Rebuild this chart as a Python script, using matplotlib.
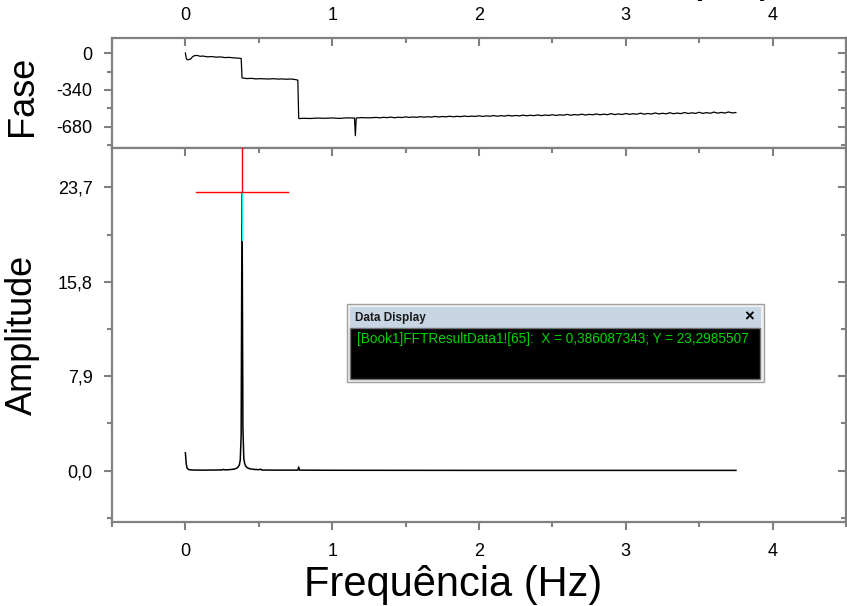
import matplotlib
matplotlib.use("Agg")
import matplotlib.pyplot as plt
from matplotlib.patches import Rectangle
from matplotlib.ticker import FixedLocator, FuncFormatter

plt.rcParams["font.family"] = ["Liberation Sans", "DejaVu Sans"]
plt.rcParams["axes.unicode_minus"] = False

# ----------------------------
# Data (FFT result)
# ----------------------------
phase_freq = [0.000, 0.006, 0.012, 0.024, 0.036, 0.048, 0.060, 0.080, 0.100, 0.120,
              0.150, 0.180, 0.210, 0.240, 0.270, 0.300, 0.330, 0.360, 0.380, 0.386,
              0.392, 0.420, 0.450, 0.480, 0.510, 0.540, 0.570, 0.600, 0.630, 0.660,
              0.690, 0.720, 0.750, 0.766, 0.772, 0.778, 0.800, 0.850, 0.900, 0.950,
              1.000, 1.050, 1.100, 1.152, 1.158, 1.164, 1.200, 1.250,
              1.300, 1.325, 1.350, 1.375, 1.400, 1.425, 1.450, 1.475, 1.500, 1.525,
              1.550, 1.575, 1.600, 1.625, 1.650, 1.675, 1.700, 1.725, 1.750, 1.775,
              1.800, 1.825, 1.850, 1.875, 1.900, 1.925, 1.950, 1.975, 2.000, 2.025,
              2.050, 2.075, 2.100, 2.125, 2.150, 2.175, 2.200, 2.225, 2.250, 2.275,
              2.300, 2.325, 2.350, 2.375, 2.400, 2.425, 2.450, 2.475, 2.500, 2.525,
              2.550, 2.575, 2.600, 2.625, 2.650, 2.675, 2.700, 2.725, 2.750, 2.775,
              2.800, 2.825, 2.850, 2.875, 2.900, 2.925, 2.950, 2.975, 3.000, 3.025,
              3.050, 3.075, 3.100, 3.125, 3.150, 3.175, 3.200, 3.225, 3.250, 3.275,
              3.300, 3.325, 3.350, 3.375, 3.400, 3.425, 3.450, 3.475, 3.500, 3.525,
              3.550, 3.575, 3.600, 3.625, 3.650, 3.675, 3.700, 3.725, 3.750]
phase_deg = [0, -48, -62, -60, -55, -35, -25, -22, -30, -28,
             -35, -33, -38, -36, -42, -40, -45, -47, -50, -228,
             -230, -235, -233, -238, -236, -237, -239, -236, -240, -238,
             -241, -239, -244, -250, -600, -603, -600, -602, -598, -600,
             -597, -601, -596, -598, -760, -597, -594, -596,
             -592, -596, -591, -594, -589, -595, -590, -593, -587, -592,
             -588, -591, -585, -590, -586, -589, -583, -588, -584, -587,
             -581, -586, -582, -585, -579, -584, -580, -583, -577, -583,
             -578, -581, -575, -581, -576, -580, -573, -579, -574, -578,
             -571, -577, -572, -576, -569, -576, -570, -574, -567, -574,
             -568, -572, -564, -572, -566, -570, -562, -570, -564, -568,
             -560, -568, -562, -567, -557, -566, -560, -565, -556, -564,
             -558, -563, -553, -562, -556, -561, -551, -560, -554, -559,
             -549, -558, -552, -557, -547, -556, -550, -555, -545, -555,
             -548, -554, -543, -553, -546, -552, -542, -551, -547]

amp_freq = [0.000, 0.006, 0.012, 0.024, 0.050, 0.100, 0.200, 0.250, 0.260, 0.270,
            0.300, 0.330, 0.350, 0.362, 0.368, 0.374, 0.380, 0.386, 0.392, 0.398,
            0.404, 0.410, 0.420, 0.440, 0.470, 0.500, 0.515, 0.520, 0.600, 0.766,
            0.772, 0.778, 1.000, 2.000, 3.000, 3.750]
amp_vals = [1.50, 0.55, 0.20, 0.08, 0.05, 0.04, 0.05, 0.06, 0.10, 0.06,
            0.08, 0.12, 0.20, 0.35, 0.50, 0.90, 3.00, 23.2985507, 3.60, 1.00,
            0.60, 0.40, 0.25, 0.15, 0.10, 0.08, 0.12, 0.05, 0.04, 0.04,
            0.30, 0.04, 0.03, 0.02, 0.02, 0.02]

peak_x = 0.386087343
peak_y = 23.2985507

x_ticks = [0, 1, 2, 3, 4]
x_minor = [-0.5, 0.5, 1.5, 2.5, 3.5, 4.5]
phase_ticks = [0, -340, -680]
phase_minor = [-170, -510, -850]
amp_ticks = [0.0, 7.9, 15.8, 23.7]
amp_minor = [-3.95, 3.95, 11.85, 19.75]

spine_gray = "#808080"
tick_size = 13

# ----------------------------
# Figure
# ----------------------------
fig = plt.figure(figsize=(8.47, 6.06), dpi=100)
ax_ph = fig.add_axes([0.1322, 0.7558, 0.8666, 0.1815])
ax_amp = fig.add_axes([0.1322, 0.1386, 0.8666, 0.6172])


def style_axes(ax):
    for sp in ax.spines.values():
        sp.set_color(spine_gray)
        sp.set_linewidth(1.6)
    ax.tick_params(which="both", color=spine_gray, width=1.5,
                   labelsize=tick_size, labelcolor="black")
    ax.tick_params(which="major", length=6)
    ax.tick_params(which="minor", length=3.5)


def inner_ticks(ax):
    ax.tick_params(which="both", direction="in", color=spine_gray, width=1.5,
                   labelleft=False, labelright=False, labeltop=False,
                   labelbottom=False)
    ax.tick_params(which="major", length=6)
    ax.tick_params(which="minor", length=3.5)
    for sp in ax.spines.values():
        sp.set_visible(False)


# phase panel
ax_ph.plot(phase_freq, phase_deg, color="black", lw=0.9)
ax_ph.set_xlim(-0.5, 4.5)
ax_ph.set_ylim(-873, 138)
style_axes(ax_ph)
ax_ph.xaxis.set_major_locator(FixedLocator(x_ticks))
ax_ph.xaxis.set_minor_locator(FixedLocator(x_minor))
ax_ph.yaxis.set_major_locator(FixedLocator(phase_ticks))
ax_ph.yaxis.set_minor_locator(FixedLocator(phase_minor))
ax_ph.tick_params(axis="x", which="both", direction="in", top=True, bottom=False,
                  labeltop=True, labelbottom=False, pad=10)
ax_ph.tick_params(axis="y", which="both", direction="out", left=True,
                  right=False, pad=8)

ax_ph_r = ax_ph.twinx()
ax_ph_r.set_ylim(ax_ph.get_ylim())
ax_ph_r.yaxis.set_major_locator(FixedLocator(phase_ticks))
ax_ph_r.yaxis.set_minor_locator(FixedLocator(phase_minor))
inner_ticks(ax_ph_r)

# amplitude panel
ax_amp.plot(amp_freq, amp_vals, color="black", lw=1.1)
ax_amp.set_xlim(-0.5, 4.5)
ax_amp.set_ylim(-4.3, 27.0)
style_axes(ax_amp)
ax_amp.xaxis.set_major_locator(FixedLocator(x_ticks))
ax_amp.xaxis.set_minor_locator(FixedLocator(x_minor))
ax_amp.yaxis.set_major_locator(FixedLocator(amp_ticks))
ax_amp.yaxis.set_minor_locator(FixedLocator(amp_minor))
ax_amp.yaxis.set_major_formatter(
    FuncFormatter(lambda v, p: f"{v:.1f}".replace(".", ",")))
ax_amp.tick_params(axis="x", which="both", direction="out", top=False,
                   bottom=True, pad=9)
ax_amp.tick_params(axis="y", which="both", direction="out", left=True,
                   right=False, pad=8)

ax_amp_t = ax_amp.twiny()
ax_amp_t.set_xlim(ax_amp.get_xlim())
ax_amp_t.xaxis.set_major_locator(FixedLocator(x_ticks))
ax_amp_t.xaxis.set_minor_locator(FixedLocator(x_minor))
inner_ticks(ax_amp_t)

ax_amp_r = ax_amp.twinx()
ax_amp_r.set_ylim(ax_amp.get_ylim())
ax_amp_r.yaxis.set_major_locator(FixedLocator(amp_ticks))
ax_amp_r.yaxis.set_minor_locator(FixedLocator(amp_minor))
inner_ticks(ax_amp_r)

# cursor crosshair on the peak
ax_amp.plot([peak_x, peak_x], [peak_y, 27.0], color="red", lw=1.0, zorder=5)
ax_amp.plot([peak_x, peak_x], [peak_y, peak_y - 4.0], color="cyan", lw=1.0, zorder=5)
ax_amp.plot([0.074, 0.70], [peak_y, peak_y], color="red", lw=1.0, zorder=5)

# axis titles
fig.text(0.027, 0.842, "Fase", fontsize=26, rotation=90, ha="center", va="center")
fig.text(0.027, 0.447, "Amplitude", fontsize=26, rotation=90, ha="center",
         va="center")
fig.text(0.535, 0.034, "Frequência (Hz)", fontsize=30, ha="center", va="center")
# top axis title, mostly above the canvas
fig.text(0.863, 1.0142, "(Hz)", fontsize=34, ha="center", va="baseline")

# ----------------------------
# Data Display window
# ----------------------------
ov = fig.add_axes([0, 0, 1, 1], zorder=10)
ov.set_xlim(0, 847)
ov.set_ylim(606, 0)
ov.axis("off")
ov.patch.set_alpha(0)

ov.add_patch(Rectangle((347, 304), 417, 78, facecolor="#f0f0f0",
                       edgecolor="#a0a0a0", lw=1.0))
ov.add_patch(Rectangle((350, 307), 411, 21, facecolor="#c8d5e5", edgecolor="none"))
ov.add_patch(Rectangle((350, 328), 410, 51, facecolor="black",
                       edgecolor="#707070", lw=1.0))
ov.text(355, 318, "Data Display", fontsize=8.5, fontweight="bold",
        ha="left", va="center", color="#1a1a1a")
ov.text(749, 317, "×", fontsize=12, fontweight="bold", ha="center", va="center",
        color="black")
ov.text(357, 339, "[Book1]FFTResultData1![65]:  X = 0,386087343; Y = 23,2985507",
        fontsize=9.8, ha="left", va="center", color="#00d400")

fig.savefig("out.png", dpi=100)
